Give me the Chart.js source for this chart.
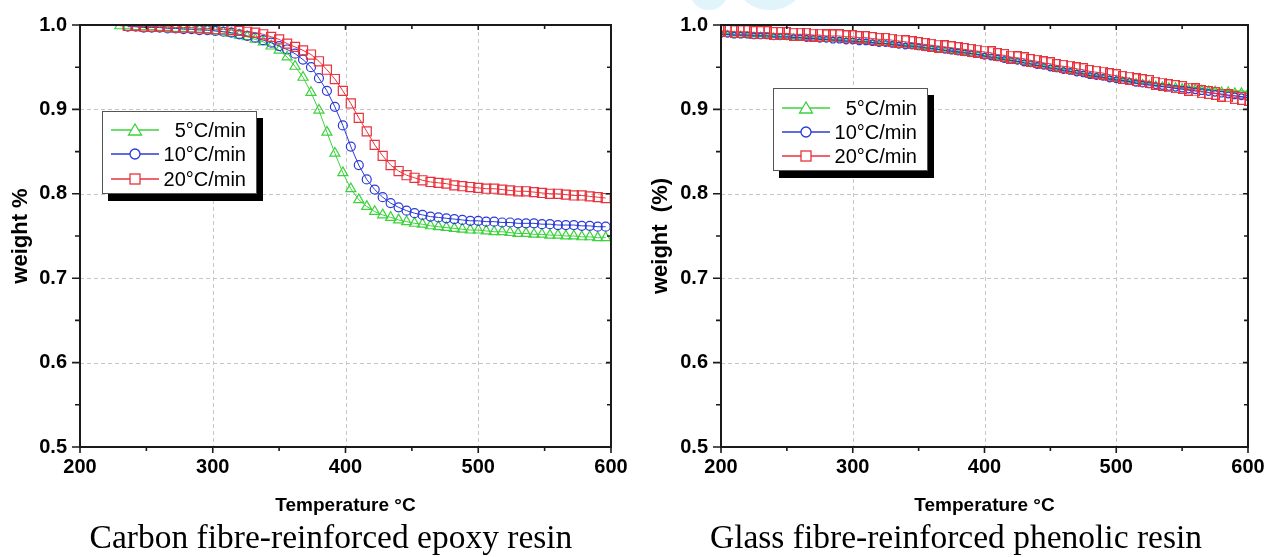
<!DOCTYPE html>
<html>
<head>
<meta charset="utf-8">
<script src="https://cdn.jsdelivr.net/npm/chart.js@4.4.1/dist/chart.umd.min.js"></script>
<style>
  html, body { margin: 0; padding: 0; background: #fff; }
  #hoja { position: relative; width: 1276px; height: 557px; overflow: hidden;
          font-family: Arial, "Liberation Sans", sans-serif; }
  .panel { position: absolute; top: 0; }
  .pie { position: absolute; top: 520px; white-space: nowrap; transform: translateX(-50%);
         font-family: "Times New Roman", "Liberation Serif", serif; font-size: 33.5px; line-height: 33px; color: #000; }
  .leyenda { position: absolute; width: 155px; height: 83px; background: #fff;
             border: 1px solid #555; box-shadow: 6px 7px 0 #000; box-sizing: border-box; }
  .fila { position: absolute; left: 8px; right: 10px; height: 24px; display: flex;
          align-items: center; justify-content: space-between; font-size: 20px; color: #000; }
  .mancha { position: absolute; background: #e1f4fc; }
</style>
</head>
<body>
<div id="hoja">
  <div class="mancha" style="left:690px;top:-26px;width:38px;height:36px;border-radius:50%;"></div>
  <div class="mancha" style="left:740px;top:-32px;width:60px;height:42px;border-radius:0 0 50% 50%;"></div>

  <canvas id="grafica-epoxi" class="panel" style="left:0" width="640" height="520"></canvas>
  <canvas id="grafica-fenolica" class="panel" style="left:640px" width="636" height="520"></canvas>

  <div id="leyenda-epoxi" class="leyenda" style="left:102px;top:111px;"></div>
  <div id="leyenda-fenolica" class="leyenda" style="left:773px;top:88px;"></div>

  <div class="pie" style="left:331px">Carbon fibre-reinforced epoxy resin</div>
  <div class="pie" style="left:956px">Glass fibre-reinforced phenolic resin</div>
</div>

<script>
// ============================================================
//  TGA – weight loss vs temperature at three heating rates
// ============================================================

const SERIES_LABELS = ['5°C/min', '10°C/min', '20°C/min'];
const COLORS = ['#3cd23c', '#2b3bd6', '#e8323c'];

const X_TICKS = [200, 300, 400, 500, 600];
const X_MINOR = [250, 350, 450, 550];
const Y_TICKS = [0.5, 0.6, 0.7, 0.8, 0.9, 1.0];
const Y_MINOR = [0.55, 0.65, 0.75, 0.85, 0.95];

// Carbon fibre / epoxy
const TEMP_EPOXY = [230, 236, 242, 248, 254, 260, 266, 272, 278, 284, 290, 296, 302, 308, 314, 320,
  326, 332, 338, 344, 350, 356, 362, 368, 374, 380, 386, 392, 398, 404, 410, 416, 422, 428, 434, 440,
  446, 452, 458, 464, 470, 476, 482, 488, 494, 500, 506, 512, 518, 524, 530, 536, 542, 548, 554, 560,
  566, 572, 578, 584, 590, 596];
const EPOXY_5 = [0.999, 0.999, 0.998, 0.998, 0.998, 0.997, 0.997, 0.996, 0.996, 0.995, 0.995, 0.994,
  0.993, 0.992, 0.990, 0.988, 0.986, 0.983, 0.980, 0.975, 0.970, 0.962, 0.951, 0.938, 0.920, 0.899,
  0.873, 0.848, 0.825, 0.806, 0.793, 0.785, 0.779, 0.775, 0.772, 0.769, 0.767, 0.765, 0.764, 0.762,
  0.761, 0.760, 0.759, 0.758, 0.757, 0.757, 0.756, 0.755, 0.755, 0.754, 0.753, 0.753, 0.752, 0.752,
  0.751, 0.751, 0.750, 0.750, 0.749, 0.749, 0.748, 0.748];
const EPOXY_10 = [null, 0.998, 0.998, 0.997, 0.997, 0.997, 0.996, 0.996, 0.995, 0.995, 0.994, 0.994,
  0.993, 0.992, 0.991, 0.989, 0.987, 0.985, 0.982, 0.979, 0.975, 0.971, 0.966, 0.959, 0.950, 0.937,
  0.922, 0.903, 0.881, 0.856, 0.834, 0.817, 0.805, 0.796, 0.789, 0.784, 0.780, 0.777, 0.775, 0.773,
  0.772, 0.771, 0.770, 0.769, 0.768, 0.768, 0.767, 0.767, 0.766, 0.766, 0.765, 0.765, 0.765, 0.764,
  0.764, 0.763, 0.763, 0.763, 0.762, 0.762, 0.761, 0.761];
const EPOXY_20 = [null, 0.999, 0.999, 0.998, 0.998, 0.998, 0.998, 0.997, 0.997, 0.997, 0.996, 0.996,
  0.995, 0.995, 0.994, 0.993, 0.992, 0.991, 0.989, 0.986, 0.983, 0.978, 0.974, 0.970, 0.965, 0.957,
  0.947, 0.936, 0.922, 0.907, 0.890, 0.874, 0.858, 0.845, 0.834, 0.827, 0.822, 0.819, 0.816, 0.814,
  0.813, 0.812, 0.810, 0.809, 0.808, 0.807, 0.806, 0.806, 0.805, 0.804, 0.803, 0.803, 0.802, 0.801,
  0.800, 0.800, 0.799, 0.798, 0.798, 0.797, 0.796, 0.795];

// Glass fibre / phenolic
const TEMP_PHENOLIC = [200, 205, 210, 215, 220, 225, 230, 235, 240, 245, 250, 255, 260, 265, 270, 275,
  280, 285, 290, 295, 300, 305, 310, 315, 320, 325, 330, 335, 340, 345, 350, 355, 360, 365, 370, 375,
  380, 385, 390, 395, 400, 405, 410, 415, 420, 425, 430, 435, 440, 445, 450, 455, 460, 465, 470, 475,
  480, 485, 490, 495, 500, 505, 510, 515, 520, 525, 530, 535, 540, 545, 550, 555, 560, 565, 570, 575,
  580, 585, 590, 595, 600];
const PHENOLIC_5 = [0.990, 0.990, 0.989, 0.989, 0.988, 0.988, 0.988, 0.987, 0.987, 0.986, 0.986, 0.986,
  0.985, 0.985, 0.984, 0.984, 0.983, 0.983, 0.982, 0.982, 0.981, 0.981, 0.980, 0.979, 0.979, 0.978,
  0.977, 0.977, 0.976, 0.975, 0.974, 0.973, 0.972, 0.971, 0.970, 0.969, 0.968, 0.967, 0.966, 0.965,
  0.964, 0.962, 0.961, 0.960, 0.958, 0.957, 0.955, 0.954, 0.952, 0.951, 0.950, 0.948, 0.947, 0.945,
  0.944, 0.942, 0.941, 0.940, 0.938, 0.937, 0.936, 0.935, 0.934, 0.933, 0.932, 0.931, 0.930, 0.929,
  0.928, 0.928, 0.927, 0.926, 0.926, 0.925, 0.924, 0.924, 0.923, 0.923, 0.922, 0.922, 0.921];
const PHENOLIC_10 = [0.989, 0.989, 0.988, 0.988, 0.988, 0.987, 0.987, 0.987, 0.986, 0.986, 0.986, 0.985,
  0.985, 0.984, 0.984, 0.983, 0.983, 0.982, 0.982, 0.981, 0.981, 0.980, 0.980, 0.979, 0.978, 0.978,
  0.977, 0.976, 0.975, 0.975, 0.974, 0.973, 0.972, 0.971, 0.970, 0.969, 0.968, 0.967, 0.966, 0.965,
  0.963, 0.962, 0.961, 0.959, 0.958, 0.957, 0.955, 0.954, 0.952, 0.951, 0.949, 0.948, 0.946, 0.945,
  0.943, 0.942, 0.940, 0.939, 0.938, 0.936, 0.935, 0.934, 0.933, 0.931, 0.930, 0.929, 0.928, 0.927,
  0.926, 0.925, 0.924, 0.923, 0.922, 0.921, 0.920, 0.919, 0.918, 0.917, 0.916, 0.915, 0.914];
const PHENOLIC_20 = [0.993, 0.993, 0.992, 0.992, 0.992, 0.991, 0.991, 0.991, 0.990, 0.990, 0.990, 0.989,
  0.989, 0.989, 0.988, 0.988, 0.987, 0.987, 0.987, 0.986, 0.986, 0.985, 0.985, 0.984, 0.983, 0.983,
  0.982, 0.981, 0.980, 0.979, 0.978, 0.977, 0.976, 0.975, 0.974, 0.973, 0.972, 0.971, 0.970, 0.969,
  0.968, 0.967, 0.965, 0.964, 0.962, 0.961, 0.960, 0.958, 0.957, 0.955, 0.954, 0.952, 0.951, 0.950,
  0.948, 0.947, 0.945, 0.944, 0.943, 0.941, 0.940, 0.938, 0.937, 0.935, 0.934, 0.933, 0.931, 0.930,
  0.928, 0.927, 0.926, 0.924, 0.923, 0.921, 0.920, 0.919, 0.917, 0.916, 0.914, 0.913, 0.912];

const FONT = 'Arial, "Liberation Sans", sans-serif';

// ---------------------------------------------------------------
// Dashed grid, boxed frame and minor/major tick marks
// ---------------------------------------------------------------
const marcoEjes = {
  id: 'marcoEjes',
  beforeDatasetsDraw(chart) {
    const { ctx, chartArea: a, scales: { x, y } } = chart;
    ctx.save();
    ctx.strokeStyle = '#c6c6c6';
    ctx.lineWidth = 1;
    ctx.setLineDash([4, 3]);
    ctx.beginPath();
    X_TICKS.slice(1, -1).forEach(v => {
      const px = Math.round(x.getPixelForValue(v)) + 0.5;
      ctx.moveTo(px, a.top); ctx.lineTo(px, a.bottom);
    });
    Y_TICKS.slice(1, -1).forEach(v => {
      const py = Math.round(y.getPixelForValue(v)) + 0.5;
      ctx.moveTo(a.left, py); ctx.lineTo(a.right, py);
    });
    ctx.stroke();
    ctx.restore();
  },
  afterDatasetsDraw(chart) {
    const { ctx, chartArea: a, scales: { x, y } } = chart;
    const seg = (x1, y1, x2, y2) => { ctx.moveTo(x1, y1); ctx.lineTo(x2, y2); };
    ctx.save();
    ctx.strokeStyle = '#1a1a1a';
    ctx.lineWidth = 1.6;
    ctx.beginPath();
    X_TICKS.forEach(v => {
      const px = x.getPixelForValue(v);
      seg(px, a.bottom, px, a.bottom + 6);
      seg(px, a.top, px, a.top + 5);
    });
    X_MINOR.forEach(v => {
      const px = x.getPixelForValue(v);
      seg(px, a.bottom, px, a.bottom + 4);
      seg(px, a.top, px, a.top + 4);
    });
    Y_TICKS.forEach(v => {
      const py = y.getPixelForValue(v);
      seg(a.left - 8, py, a.left, py);
      seg(a.right - 5, py, a.right, py);
    });
    Y_MINOR.forEach(v => {
      const py = y.getPixelForValue(v);
      seg(a.left - 5, py, a.left, py);
      seg(a.right - 4, py, a.right, py);
    });
    ctx.stroke();
    ctx.lineWidth = 2;
    ctx.strokeRect(a.left, a.top, a.right - a.left, a.bottom - a.top);
    ctx.restore();
  }
};

// tall hollow rectangle used for the dense 20°C/min markers
function marcaRect(color) {
  const c = document.createElement('canvas');
  c.width = 9; c.height = 13;
  const g = c.getContext('2d');
  g.strokeStyle = color;
  g.lineWidth = 1.2;
  g.strokeRect(0.6, 0.6, 7.8, 11.8);
  return c;
}

function puntos(temps, vals) {
  return temps.map((t, i) => ({ x: t, y: vals[i] }));
}

function serie(i, temps, vals, estilo) {
  return {
    label: SERIES_LABELS[i],
    data: puntos(temps, vals),
    borderColor: COLORS[i],
    borderWidth: 1,
    pointBorderColor: COLORS[i],
    pointBackgroundColor: 'rgba(0,0,0,0)',
    pointBorderWidth: 1.2,
    tension: 0,
    order: 3 - i,
    ...estilo
  };
}

function crearGrafica(id, datasets, tituloY, padRight, anchoY) {
  return new Chart(document.getElementById(id), {
    type: 'line',
    data: { datasets },
    options: {
      responsive: false,
      animation: false,
      devicePixelRatio: 1,
      layout: { padding: { left: 0, top: 22, right: padRight, bottom: 0 } },
      plugins: { legend: { display: false }, tooltip: { enabled: false } },
      scales: {
        x: {
          type: 'linear', min: 200, max: 600,
          afterBuildTicks: s => { s.ticks = X_TICKS.map(v => ({ value: v })); },
          afterFit: s => { s.height = 73; },
          grid: { display: false, drawTicks: false },
          border: { display: false },
          ticks: { color: '#000', padding: 8, maxRotation: 0, autoSkip: false,
                   font: { family: FONT, size: 20, weight: 'bold' } },
          title: { display: true, text: 'Temperature °C', color: '#000',
                   padding: { top: 0, bottom: 3 },
                   font: { family: FONT, size: 19, weight: 'bold' } }
        },
        y: {
          min: 0.5, max: 1.0,
          afterBuildTicks: s => { s.ticks = Y_TICKS.map(v => ({ value: v })); },
          afterFit: s => { s.width = anchoY; },
          grid: { display: false, drawTicks: false },
          border: { display: false },
          ticks: { color: '#000', padding: 13, callback: v => Number(v).toFixed(1),
                   font: { family: FONT, size: 20, weight: 'bold' } },
          title: { display: true, text: tituloY, color: '#000',
                   padding: { top: 8, bottom: 0 },
                   font: { family: FONT, size: 22, weight: 'bold' } }
        }
      }
    },
    plugins: [marcoEjes]
  });
}

// ---------------------------------------------------------------
// Legends (box with drop shadow)
// ---------------------------------------------------------------
const ICONOS = [
  c => `<polygon points="24,2 30.5,13 17.5,13" fill="#fff" stroke="${c}" stroke-width="1.3"/>`,
  c => `<circle cx="24" cy="8" r="5" fill="#fff" stroke="${c}" stroke-width="1.3"/>`,
  c => `<rect x="19" y="3" width="10" height="10" fill="#fff" stroke="${c}" stroke-width="1.3"/>`
];

function renderLeyenda(id, filas) {
  document.getElementById(id).innerHTML = SERIES_LABELS.map((l, i) => `
    <div class="fila" style="top:${filas[i]}px">
      <svg width="48" height="16"><line x1="0" y1="8" x2="48" y2="8" stroke="${COLORS[i]}" stroke-width="1.3"/>${ICONOS[i](COLORS[i])}</svg>
      <span>${l}</span>
    </div>
  `).join('');
}

crearGrafica('grafica-epoxi', [
  serie(0, TEMP_EPOXY, EPOXY_5,  { pointStyle: 'triangle', pointRadius: 5.8 }),
  serie(1, TEMP_EPOXY, EPOXY_10, { pointStyle: 'circle',   pointRadius: 4.5 }),
  serie(2, TEMP_EPOXY, EPOXY_20, { pointStyle: 'rect',     pointRadius: 6.4 })
], 'weight %', 29, 80);

crearGrafica('grafica-fenolica', [
  serie(0, TEMP_PHENOLIC, PHENOLIC_5,  { pointStyle: 'triangle', pointRadius: 3, borderWidth: 1.3 }),
  serie(1, TEMP_PHENOLIC, PHENOLIC_10, { pointStyle: 'circle',   pointRadius: 2.8, borderWidth: 1.3 }),
  serie(2, TEMP_PHENOLIC, PHENOLIC_20, { pointStyle: marcaRect(COLORS[2]), pointRadius: 5 })
], 'weight  (%)', 28, 81);

renderLeyenda('leyenda-epoxi', [6, 30, 55]);
renderLeyenda('leyenda-fenolica', [7, 31, 55]);
</script>
</body>
</html>
